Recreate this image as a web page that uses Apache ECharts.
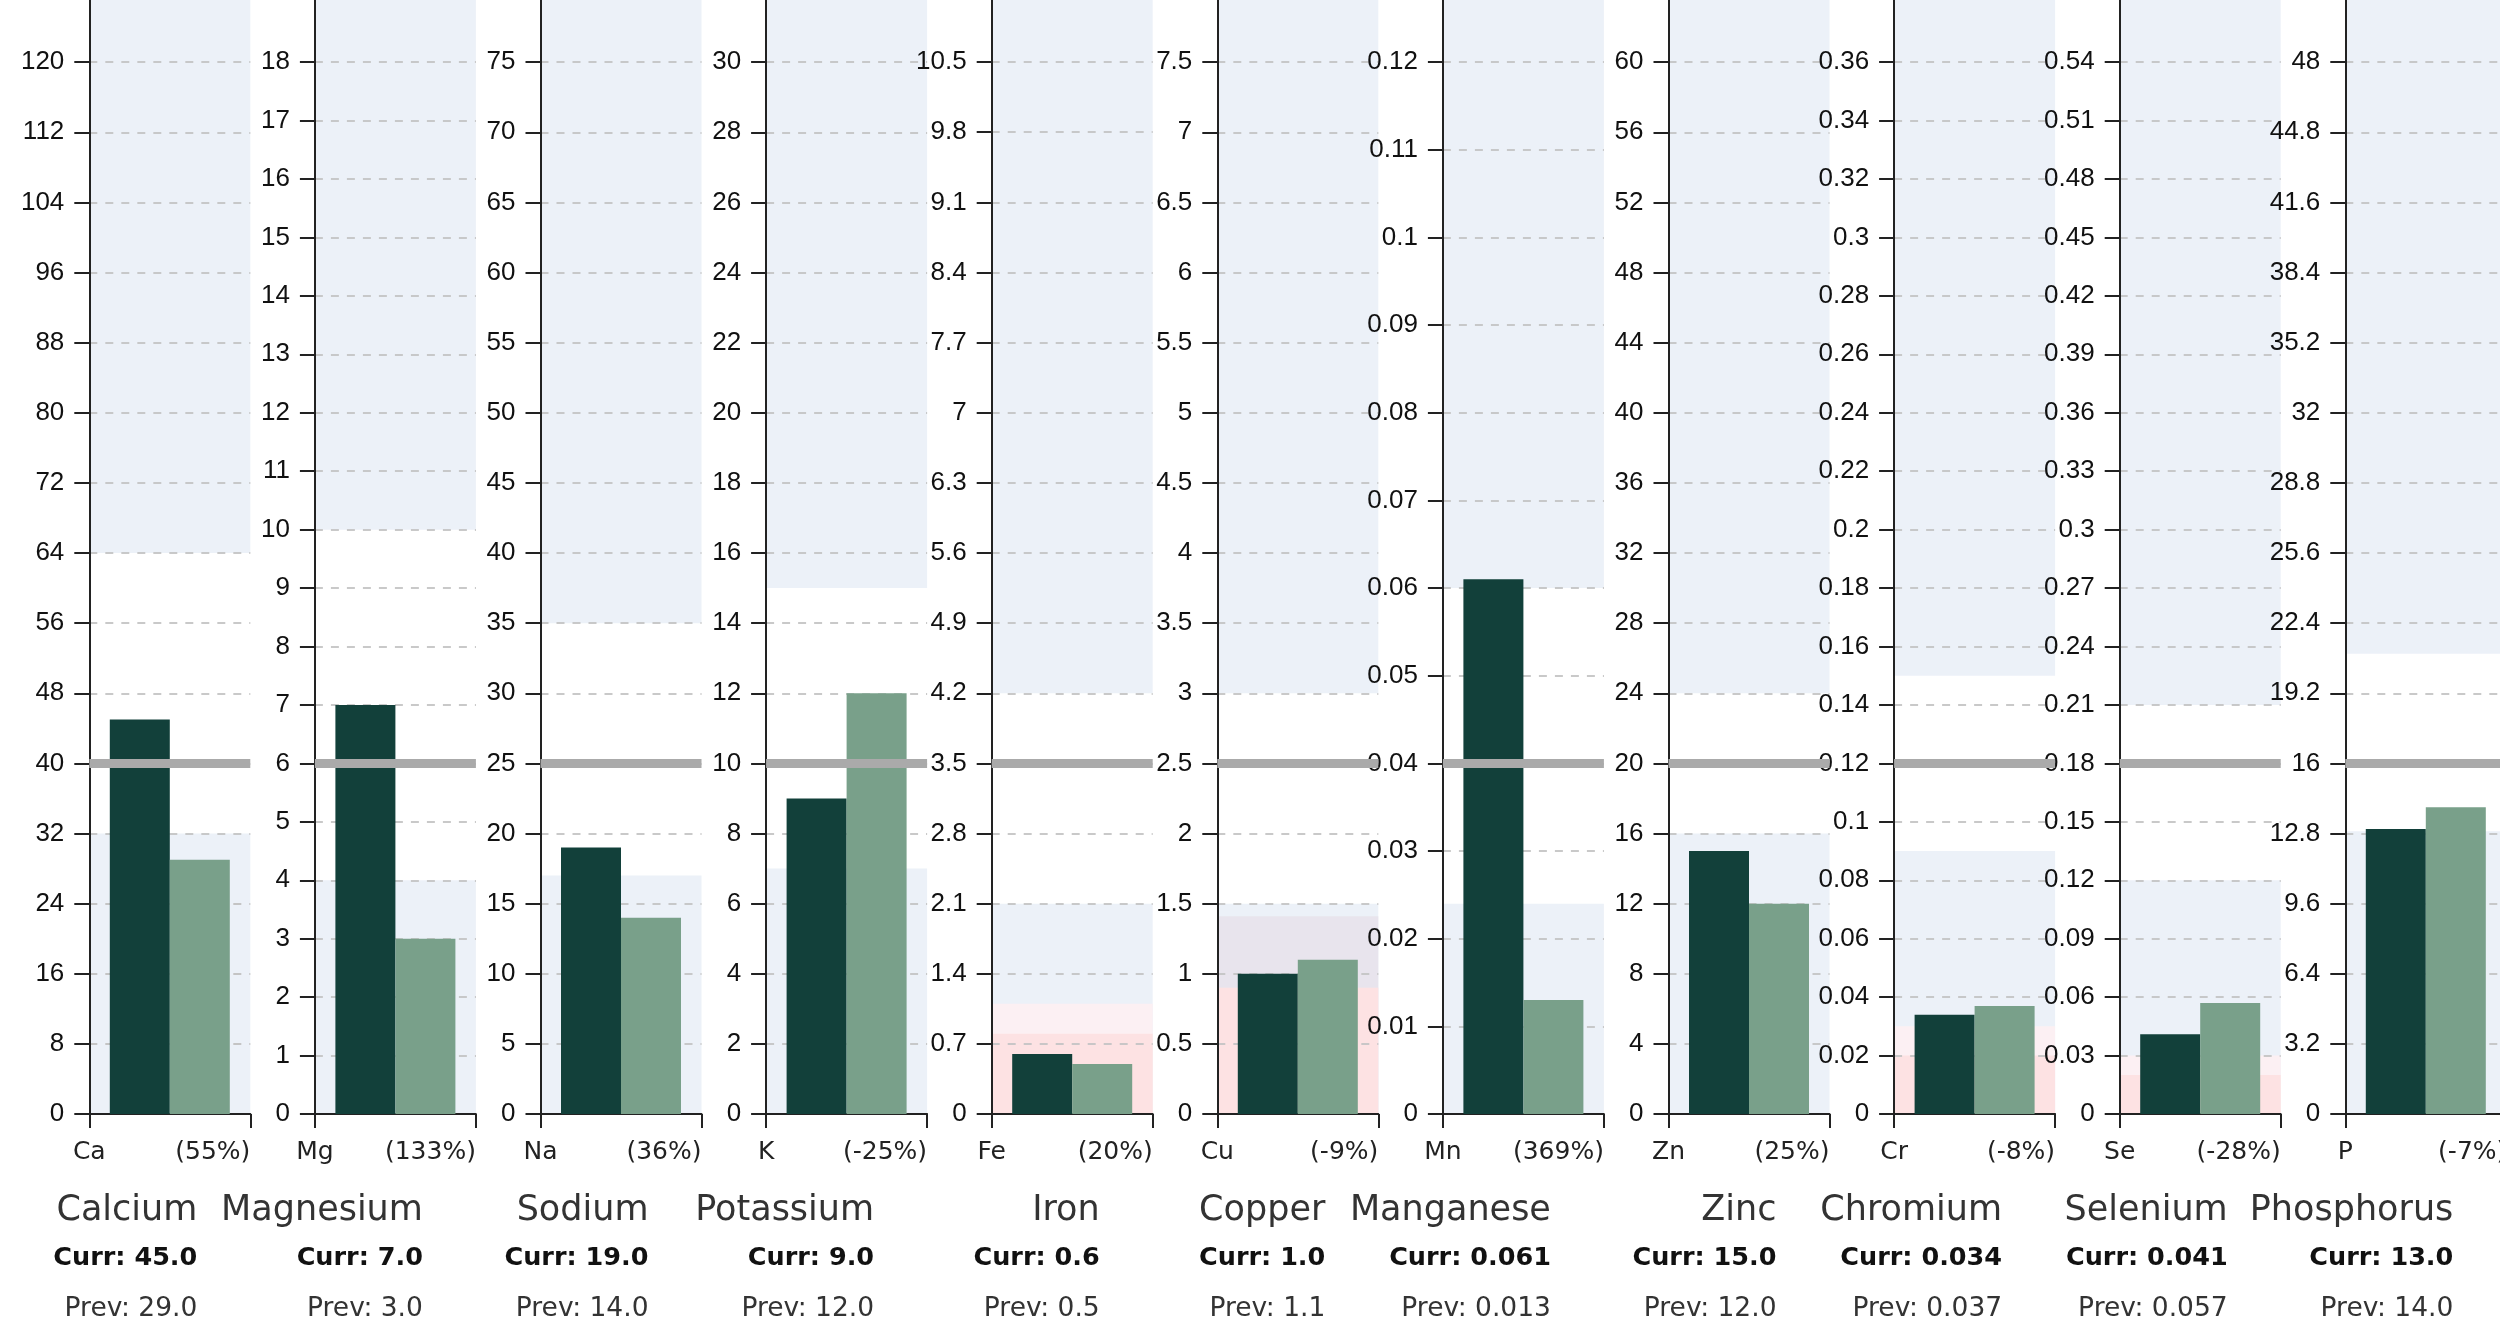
<!DOCTYPE html>
<html>
<head>
<meta charset="utf-8">
<script src="https://cdn.jsdelivr.net/npm/echarts@6/dist/echarts.min.js"></script>
<style>
html,body{margin:0;padding:0;background:#fff;}
#chart{width:2500px;height:1340px;}
</style>
</head>
<body>
<div id="chart"></div>
<script>
const symbols = ['Ca','Mg','Na','K','Fe','Cu','Mn','Zn','Cr','Se','P'];
const names = ['Calcium','Magnesium','Sodium','Potassium','Iron','Copper','Manganese','Zinc','Chromium','Selenium','Phosphorus'];
const currValues = [45, 7, 19, 9, 0.6, 1.0, 0.061, 15, 0.034, 0.041, 13];
const prevValues = [29, 3, 14, 12, 0.5, 1.1, 0.013, 12, 0.037, 0.057, 14];
const refValues = [40, 6, 25, 10, 3.5, 2.5, 0.04, 20, 0.12, 0.18, 16];
const tickSteps = [8, 1, 5, 2, 0.7, 0.5, 0.01, 4, 0.02, 0.03, 3.2];
const optimalTop = [32, 4, 17, 7, 2.1, 1.5, 0.024, 16, 0.09, 0.12, 12.9];
const highFrom = [64, 10, 35, 15, 4.2, 3.0, 0.06, 24, 0.15, 0.21, 21];
const lowTop = [null, null, null, null, 0.8, 0.9, null, null, 0.02, 0.02, null];
const borderTop = [null, null, null, null, 1.1, 1.41, null, null, 0.03, 0.03, null];
const borderTone = [null, null, null, null, 'light', 'dark', null, null, 'light', 'light', null];

const C_BLUE = '#ecf1f8', C_PINK = '#fde2e3', C_LPINK = '#fcf0f3', C_LAV = '#e8e4ed';
const PANEL_LEFT0 = 89.3, PANEL_STEP = 225.6, PANEL_W = 161;
const GRID_TOP = -8, GRID_H = 1122;

const r6 = v => Math.round(v * 1e6) / 1e6;
const chart = echarts.init(document.getElementById('chart'), null, {renderer: 'canvas'});

const grid = [], xAxis = [], yAxis = [], series = [], graphics = [];
symbols.forEach((sym, i) => {
  const left = PANEL_LEFT0 + i * PANEL_STEP;
  const ref = refValues[i], step = tickSteps[i];
  const maxV = r6(ref * 3.2);
  const nTicks = Math.round(ref * 3 / step);
  const ticks = [];
  for (let k = 0; k <= nTicks; k++) ticks.push(r6(k * step));
  const dec = ref < 1 ? 3 : 1;
  const pct = Math.round((currValues[i] - prevValues[i]) / prevValues[i] * 100);

  grid.push({left: left, top: GRID_TOP, width: PANEL_W, height: GRID_H, outerBoundsMode: 'none', containLabel: false});
  xAxis.push({type: 'category', gridIndex: i, data: [sym], show: false});
  xAxis.push({
    type: 'value', gridIndex: i, min: 0, max: 1, interval: 1, position: 'bottom', z: 1.5,
    axisLine: {show: true, onZero: false, lineStyle: {color: '#222', width: 2}},
    axisTick: {show: true, length: 14, lineStyle: {color: '#222', width: 2}},
    splitLine: {show: false},
    axisLabel: {
      show: true, margin: 26, fontSize: 25, fontFamily: 'DejaVu Sans', color: '#222',
      alignMinLabel: 'center', alignMaxLabel: 'right', showMinLabel: true, showMaxLabel: true,
      formatter: v => (v === 0 ? sym : '(' + pct + '%)')
    }
  });
  yAxis.push({
    type: 'value', gridIndex: i, min: 0, max: maxV, interval: step, z: 1.5,
    axisLine: {show: true, lineStyle: {color: '#222', width: 2}},
    axisTick: {show: true, length: 15, customValues: ticks, lineStyle: {color: '#222', width: 2}},
    axisLabel: {
      show: true, margin: 25, fontSize: 26, fontFamily: 'Liberation Sans', color: '#111',
      customValues: ticks, formatter: v => String(r6(v))
    },
    splitLine: {show: true, lineStyle: {color: '#c4c4c4', width: 1.8, type: [8, 8]}}
  });

  const bands = [];
  bands.push([{yAxis: 0, itemStyle: {color: C_BLUE}}, {yAxis: optimalTop[i]}]);
  if (borderTop[i] != null) {
    bands.push([{yAxis: 0, itemStyle: {color: borderTone[i] === 'dark' ? C_LAV : C_LPINK}}, {yAxis: borderTop[i]}]);
  }
  if (lowTop[i] != null) {
    bands.push([{yAxis: 0, itemStyle: {color: C_PINK}}, {yAxis: lowTop[i]}]);
  }
  bands.push([{yAxis: highFrom[i], itemStyle: {color: C_BLUE}}, {yAxis: maxV}]);

  series.push({
    name: 'Curr', type: 'bar', xAxisIndex: 2 * i, yAxisIndex: i, data: [currValues[i]],
    barWidth: 60, barGap: '0%', z: 2, itemStyle: {color: '#12403a'}, silent: true,
    markArea: {silent: true, z: 1, label: {show: false}, data: bands},
    markLine: {
      silent: true, z: 5, symbol: ['none', 'none'], label: {show: false},
      lineStyle: {color: '#aaaaaa', width: 9, type: 'solid'},
      data: [{yAxis: ref}]
    }
  });
  series.push({
    name: 'Prev', type: 'bar', xAxisIndex: 2 * i, yAxisIndex: i, data: [prevValues[i]],
    barWidth: 60, barGap: '0%', z: 2, itemStyle: {color: '#79a08a'}, silent: true
  });

  const tx = left + 108;
  graphics.push({type: 'text', x: tx, y: 1211, style: {text: names[i], fontSize: 35, fontFamily: 'DejaVu Sans', fill: '#333', align: 'right', verticalAlign: 'middle'}});
  graphics.push({type: 'text', x: tx, y: 1258, style: {text: 'Curr: ' + currValues[i].toFixed(dec), fontSize: 25.5, fontWeight: 'bold', fontFamily: 'DejaVu Sans', fill: '#111', align: 'right', verticalAlign: 'middle'}});
  graphics.push({type: 'text', x: tx, y: 1309, style: {text: 'Prev: ' + prevValues[i].toFixed(dec), fontSize: 26.5, fontFamily: 'DejaVu Sans', fill: '#333', align: 'right', verticalAlign: 'middle'}});
});

chart.setOption({
  backgroundColor: '#ffffff',
  animation: false,
  grid: grid,
  xAxis: xAxis,
  yAxis: yAxis,
  series: series,
  graphic: graphics
});
</script>
</body>
</html>
